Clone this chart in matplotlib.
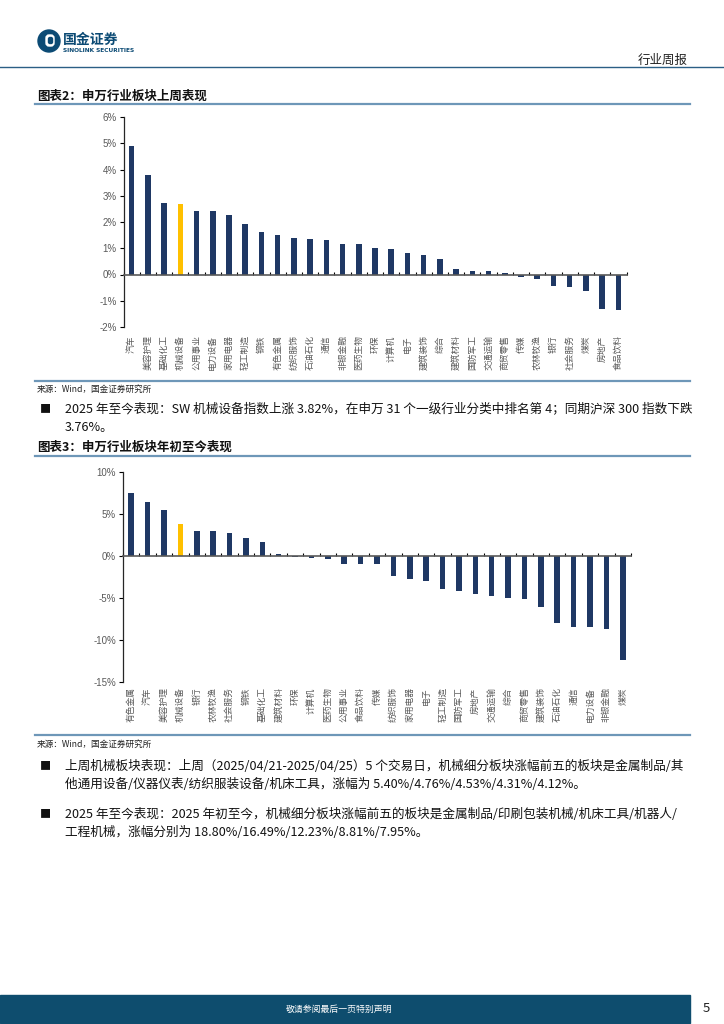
import matplotlib
matplotlib.use("Agg")
import matplotlib.pyplot as plt
from matplotlib import patches
from matplotlib.transforms import blended_transform_factory
import numpy as np

plt.rcParams['font.family'] = ['Noto Sans CJK SC', 'DejaVu Sans']

# 申万行业 上周涨跌幅 (%)
week_names = ['汽车', '美容护理', '基础化工', '机械设备', '公用事业', '电力设备', '家用电器',
              '轻工制造', '钢铁', '有色金属', '纺织服饰', '石油石化', '通信', '非银金融',
              '医药生物', '环保', '计算机', '电子', '建筑装饰', '综合', '建筑材料', '国防军工',
              '交通运输', '商贸零售', '传媒', '农林牧渔', '银行', '社会服务', '煤炭', '房地产',
              '食品饮料']
week_values = [4.88, 3.80, 2.71, 2.68, 2.43, 2.41, 2.26, 1.92, 1.63, 1.49, 1.39, 1.35, 1.32,
               1.18, 1.15, 1.01, 0.97, 0.81, 0.75, 0.58, 0.20, 0.14, 0.14, 0.06, -0.09, -0.19,
               -0.42, -0.46, -0.63, -1.33, -1.37]

# 申万行业 年初至今涨跌幅 (%)
ytd_names = ['有色金属', '汽车', '美容护理', '机械设备', '银行', '农林牧渔', '社会服务', '钢铁',
             '基础化工', '建筑材料', '环保', '计算机', '医药生物', '公用事业', '食品饮料', '传媒',
             '纺织服饰', '家用电器', '电子', '轻工制造', '国防军工', '房地产', '交通运输', '综合',
             '商贸零售', '建筑装饰', '石油石化', '通信', '电力设备', '非银金融', '煤炭']
ytd_values = [7.48, 6.48, 5.52, 3.82, 2.96, 2.96, 2.76, 2.12, 1.64, 0.28, -0.15, -0.18, -0.40,
              -0.94, -0.94, -0.94, -2.36, -2.68, -3.00, -3.96, -4.12, -4.52, -4.76, -5.00,
              -5.08, -6.08, -7.92, -8.44, -8.44, -8.68, -12.44]

highlight = '机械设备'

NAVY = '#1F3864'
ORANGE = '#FFC000'
TEAL = '#0E4D6E'
RULE = '#6E97B8'
GREY = '#595959'
BODY = 9.1

W, H = 724, 1024


def fig_box(left, top, right, bottom):
    return [left / W, 1 - bottom / H, (right - left) / W, (bottom - top) / H]


def draw_bars(ax, names, values, ylim, yticks, label_gap):
    x = np.arange(len(names))
    colors = [ORANGE if n == highlight else NAVY for n in names]
    ax.bar(x, values, width=0.34, color=colors, zorder=2)
    ax.set_xlim(-0.5, len(names) - 0.5)
    ax.set_ylim(*ylim)
    ax.set_yticks(yticks)
    ax.yaxis.set_major_formatter(lambda v, p: f'{v:.0f}%')
    ax.tick_params(axis='y', direction='out', length=3, width=0.8, labelsize=7,
                   labelcolor=GREY, pad=2, labelfontfamily='Liberation Sans')
    ax.spines[['top', 'right']].set_visible(False)
    ax.spines['left'].set_color('#262626')
    ax.spines['left'].set_linewidth(0.9)
    ax.spines['bottom'].set_position(('data', 0))
    ax.spines['bottom'].set_color('#595959')
    ax.spines['bottom'].set_linewidth(1.2)
    ax.spines['bottom'].set_zorder(3)
    ax.set_xticks(np.arange(len(names) + 1) - 0.5)
    ax.tick_params(axis='x', direction='in', length=2.5, width=0.8, labelbottom=False)
    tr = blended_transform_factory(ax.transData, ax.transAxes)
    for i, n in enumerate(names):
        ax.text(i, -label_gap, n, transform=tr, rotation=90, ha='center', va='top',
                fontsize=6.3, color=GREY)


fig = plt.figure(figsize=(W / 100, H / 100), dpi=100)

# page layer in pixel coordinates
page = fig.add_axes([0, 0, 1, 1], zorder=0)
page.set_xlim(0, W)
page.set_ylim(H, 0)
page.axis('off')

# logo
page.add_patch(patches.Circle((49, 41), 11, color='#0B4A74'))
page.add_patch(patches.FancyBboxPatch((46, 35), 8, 11, boxstyle='round,pad=0,rounding_size=3',
                                      color='white'))
page.add_patch(patches.FancyBboxPatch((48.5, 37.5), 4, 6, boxstyle='round,pad=0,rounding_size=1.5',
                                      color='#0B4A74'))
page.text(63, 40, '国金证券', fontsize=10, fontweight='bold', color='#0B4A74', va='center')
page.text(63, 50, 'SINOLINK SECURITIES', fontsize=4.2, fontweight='bold', color='#0B4A74',
          va='center', family='DejaVu Sans')
page.text(688, 60, '行业周报', fontsize=9, color='#222222', ha='right', va='center')
page.plot([0, W], [67, 67], color='#2B5F85', lw=1.0)

# section 1
page.text(37, 96, '图表2：申万行业板块上周表现', fontsize=9, fontweight='bold', color='#111111',
          va='center')
page.plot([35, 690], [104, 104], color=RULE, lw=1.6)
page.plot([35, 690], [381, 381], color=RULE, lw=1.6)
page.text(37, 389, '来源：Wind，国金证券研究所', fontsize=6.2, color='#222222', va='center')

page.text(40, 409, '■', fontsize=8, color='#111111', va='center')
page.text(65, 409, '2025 年至今表现：SW 机械设备指数上涨 3.82%，在申万 31 个一级行业分类中排名第 4；同期沪深 300 指数下跌',
          fontsize=BODY, color='#111111', va='center')
page.text(65, 428, '3.76%。', fontsize=BODY, color='#111111', va='center')

# section 2
page.text(37, 447, '图表3：申万行业板块年初至今表现', fontsize=9, fontweight='bold', color='#111111',
          va='center')
page.plot([35, 690], [456, 456], color=RULE, lw=1.6)
page.plot([35, 690], [735, 735], color=RULE, lw=1.6)
page.text(37, 744, '来源：Wind，国金证券研究所', fontsize=6.2, color='#222222', va='center')

page.text(40, 766, '■', fontsize=8, color='#111111', va='center')
page.text(65, 766, '上周机械板块表现：上周（2025/04/21-2025/04/25）5 个交易日，机械细分板块涨幅前五的板块是金属制品/其',
          fontsize=BODY, color='#111111', va='center')
page.text(65, 785, '他通用设备/仪器仪表/纺织服装设备/机床工具，涨幅为 5.40%/4.76%/4.53%/4.31%/4.12%。',
          fontsize=BODY, color='#111111', va='center')
page.text(40, 814, '■', fontsize=8, color='#111111', va='center')
page.text(65, 814, '2025 年至今表现：2025 年初至今，机械细分板块涨幅前五的板块是金属制品/印刷包装机械/机床工具/机器人/',
          fontsize=BODY, color='#111111', va='center')
page.text(65, 832, '工程机械，涨幅分别为 18.80%/16.49%/12.23%/8.81%/7.95%。',
          fontsize=BODY, color='#111111', va='center')

# footer
page.add_patch(patches.Rectangle((0, 995), 690, 28, color=TEAL))
page.text(339, 1009, '敬请参阅最后一页特别声明', fontsize=6.4, color='white', ha='center', va='center')
page.text(706, 1008, '5', fontsize=9.5, color='#222222', ha='center', va='center')

# charts
ax1 = fig.add_axes(fig_box(123.5, 117, 626.5, 327), zorder=1)
draw_bars(ax1, week_names, week_values, (-2, 6), np.arange(-2, 7, 1), 0.04)

ax2 = fig.add_axes(fig_box(123, 472, 631, 682), zorder=1)
draw_bars(ax2, ytd_names, ytd_values, (-15, 10), np.arange(-15, 11, 5), 0.025)

fig.savefig('out.png', dpi=100)
